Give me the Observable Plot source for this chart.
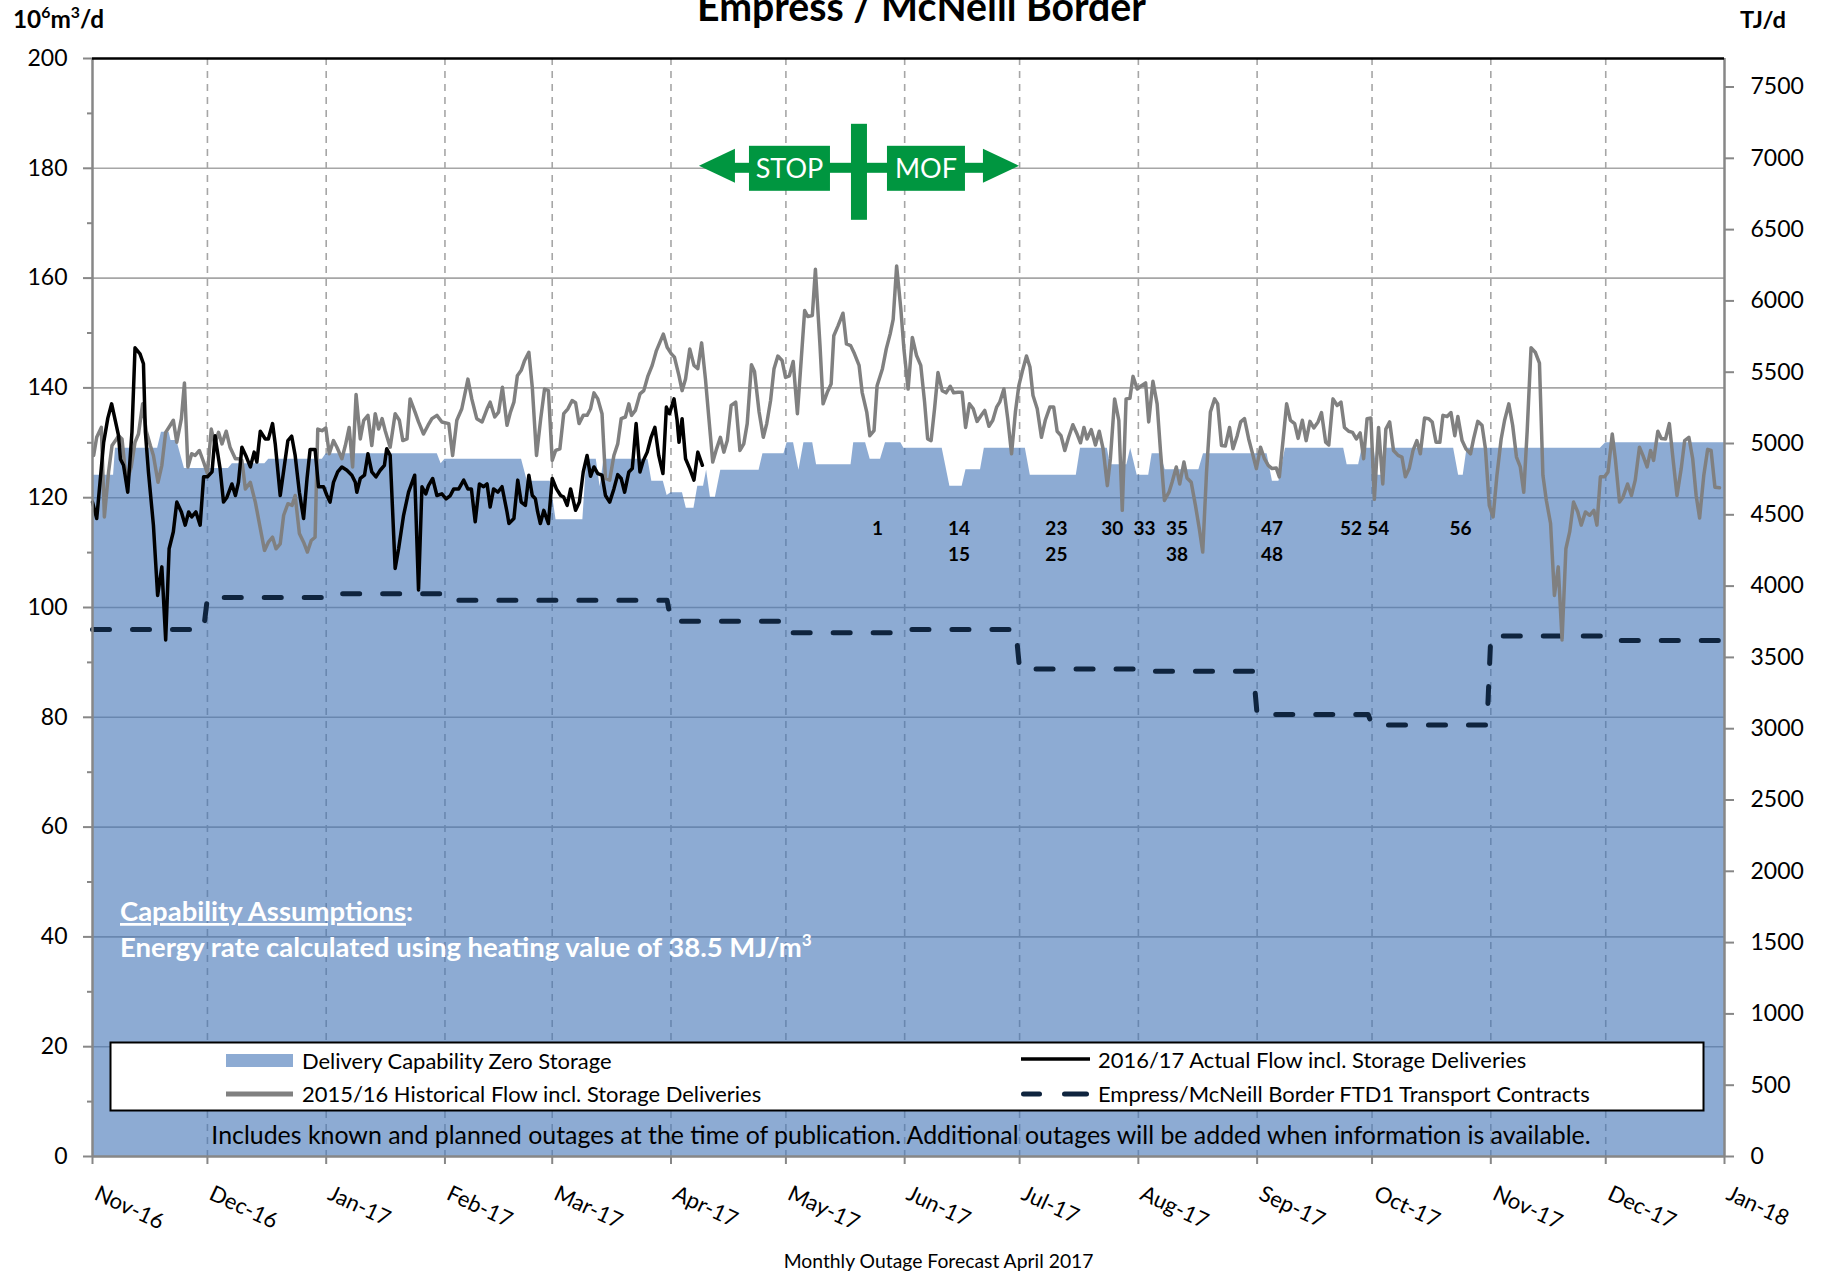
<!DOCTYPE html>
<html><head><meta charset="utf-8">
<script src="https://cdn.jsdelivr.net/npm/d3@7"></script>
<script src="https://cdn.jsdelivr.net/npm/@observablehq/plot@0.6"></script>
<style>
html,body{margin:0;padding:0;background:#fff;}
#chart{width:1826px;height:1273px;overflow:hidden;position:relative;}
svg{overflow:visible;}
</style></head><body><div id="chart"></div>
<script>
// ---------- DATA (day = days after 2016-11-01, value in 10^6 m3/d) ----------
const monthLabels = ["Nov-16","Dec-16","Jan-17","Feb-17","Mar-17","Apr-17","May-17","Jun-17","Jul-17","Aug-17","Sep-17","Oct-17","Nov-17","Dec-17","Jan-18"];
const yTicks = [0,20,40,60,80,100,120,140,160,180,200];
const tjTicks = [0,500,1000,1500,2000,2500,3000,3500,4000,4500,5000,5500,6000,6500,7000,7500];
const heatingValue = 38.5; // MJ/m3 -> TJ/d per 10^6 m3/d

// FTD1 transport contracts, one value per month Nov-16 .. Dec-17
const contractValues = [96.0,101.8,102.5,101.3,101.3,97.5,95.4,96.0,88.8,88.4,80.5,78.6,94.8,94.0];

// Delivery capability zero storage: [startDay, endDay, value]
const capability = [
 [0,5.5,124.1],[6,17,129],[18,20,131.9],[20.5,22,130.4],[24,35.5,125.3],[36.5,45,126.2],
 [46,60,127],[61,90,128],[91,91,126.2],[92,112,127],[113.5,119.5,123],[121,128,116],
 [129,131.5,127],[132.5,132.5,122],[133.5,145,127],[146,149,123],[150,150,120.4],
 [151,154,120.9],[155,157,118.1],[158,159.5,122.1],[160.3,160.3,125],[161.3,162.6,120.1],
 [164,174,125],[175,180.5,128],[181.3,183,130],[184.4,184.4,125],[185.7,188,130],
 [189,198,126],[198.7,201.8,130],[203,205.7,127],[207,211,130],[211.8,221.8,129],
 [223.8,227,122.1],[228,231.8,125.1],[232.8,243.5,129],[244.8,256.8,124.1],
 [257.9,264.9,129],[265.7,270,126],[271,271,129],[272.7,275.7,124.1],[276.6,278.8,128],
 [280,288.8,125.1],[290,306.6,128],[308,309.7,123],[311.4,326.6,129],[327.5,330.5,126],
 [331.4,334.5,129],[335.5,336.5,124.1],[337.3,355.3,129],[356.6,357.8,124.1],
 [358.8,393.6,129],[395,426,130]
];

// 2016/17 actual flow incl. storage deliveries: [day, value]
const actualFlow = [
 [0,119.2],[1.1,116.2],[2.9,130],[4,134.5],[5,137.1],[6.8,131.3],[7.3,127],[8.1,125.9],[9.2,121],[10.3,132],
 [11.1,147.3],[12.4,146.2],[13.3,144.4],[13.8,132],[14.6,124.7],[15.9,115],[17,102.2],[18.1,107.4],[19.1,94.1],
 [20,110.7],[21.1,113.8],[22,119.2],[23.2,117.4],[24.2,115],[25.1,117.4],[25.9,116.5],[27,117.4],[28.1,115],
 [29,123.8],[30,123.8],[31.2,124.7],[32,131.3],[32.5,128.9],[33.3,125.3],[34.2,119.2],[35.1,120.1],[36.4,122.5],
 [37.3,120.4],[38.1,122.8],[39,129.2],[40,127.7],[41.2,125.6],[42.2,128.3],[42.9,126.5],[43.8,132.1],[45.1,130.7],
 [45.9,130.7],[47,133.5],[47.7,129.8],[49,120.4],[50.1,125.9],[51,130.4],[52,131.2],[52.9,127.7],[54,121],
 [55.1,116.2],[56,123.5],[56.8,128.8],[58.1,128.8],[59,122],[60.3,122],[61.2,120.4],[62,119.2],[62.9,122.8],
 [64,124.7],[65.1,125.6],[66.4,125],[67.7,124.1],[68.6,122.8],[69,121],[69.9,123.5],[71,124.1],[71.9,128],
 [72.9,124.7],[74,123.8],[75.1,125],[76.2,125.9],[76.8,128.9],[77.7,127.7],[79,107.1],[79.9,110.7],[81.2,116.8],
 [82.5,121],[84.1,124.1],[85.1,103.2],[86,122],[87,120.7],[87.7,122.2],[88.8,123.5],[89.9,120.4],[91.2,120.7],
 [92.3,119.8],[93.4,120.4],[94.3,121.6],[95.6,121.6],[96.9,123.2],[98,121.6],[98.9,121.6],[99.9,115.6],[101,122.5],
 [102.1,122],[103,122.5],[103.8,118.3],[104.7,121.6],[105.8,121],[106.9,122],[108.2,117.4],[108.7,115.3],[110,116.2],
 [111,123.2],[111.9,119.2],[113,118.6],[113.9,124.1],[114.8,120.4],[115.6,119.8],[116.2,117.4],[116.9,115.3],
 [117.8,117.7],[119,115.3],[120,123.5],[121.1,121.6],[122.2,120.4],[123,120.1],[123.9,118.6],[124.8,121.6],
 [126.1,117.7],[127.1,119.2],[128.1,124.7],[129.1,127.7],[130,123.9],[130.9,125.6],[131.9,124.4],[133,124.1],
 [133.9,120.4],[135,119.2],[136.1,121.6],[137.1,124.2],[138,123.5],[138.9,121],[140,124.7],[140.9,125.3],
 [141.9,133.5],[142.9,124.7],[143.8,126.8],[144.8,128.3],[145.8,131],[146.8,132.8],[147.8,127.7],[148.9,124.4],
 [149.8,136.5],[150.6,135.3],[151.8,138],[152.6,134.1],[153.1,130.1],[153.9,134.4],[154.8,127.1],[155.9,125.3],
 [157,123.2],[158,128.3],[159.2,125.9]
];

// 2015/16 historical flow incl. storage deliveries: [day, value]
const historicalFlow = [
 [0.3,127.7],[1.1,131],[2.3,132.8],[3.1,116.5],[4.2,124.7],[5.1,129.5],[6,130.4],[6.8,131.3],[7.7,130.7],[8.4,125.9],
 [9.2,123.5],[10.1,125.6],[11.1,130.1],[12,131.6],[13.1,137.1],[14,132.2],[15.1,129.5],[15.9,127.7],[17.1,122.8],
 [18.1,125.9],[19.1,131.9],[20.3,133.2],[21.1,134.1],[22,130.1],[23.2,134.4],[24,140.9],[24.9,125.6],[25.9,128],
 [26.8,127.7],[27.9,128.6],[29,126.5],[30,124.4],[31,132.5],[31.9,129.8],[32.9,131.9],[33.8,129.8],[34.9,132.1],
 [35.9,129.2],[37.3,127.1],[38.1,127.1],[39,126.8],[39.9,121.6],[41.2,122.8],[42.5,119.2],[43.8,114.4],[44.9,110.4],
 [45.9,111.9],[47,112.8],[47.9,110.7],[49,111.6],[49.9,116.8],[51,118.9],[52.1,118.6],[52.9,120.4],[54,113.5],
 [55.1,111.9],[56.1,110.1],[57.1,112.2],[58.1,112.8],[58.8,132.5],[59.9,132.2],[60.9,132.7],[61.8,128],[62.9,130.4],
 [63.8,129.2],[65.1,127.1],[66,129.5],[67,132.8],[67.9,125.6],[68.8,138.8],[69.9,130.7],[70.8,134.1],[71.9,135],
 [72.9,129.5],[73.8,135.3],[74.7,132.5],[75.6,134.4],[76.4,132.2],[77.7,129.2],[79,135.3],[80.1,134.1],[81,130.4],
 [82.1,130.7],[82.9,138],[84.2,135.6],[85.1,133.8],[86.4,131.6],[87.6,133.2],[88.6,134.4],[89.9,135],[91.2,133.8],
 [93,133.5],[94,127.7],[95.1,134.1],[96.4,136.2],[98,141.6],[99,138],[100.3,134.4],[101.7,133.8],[103,136.2],
 [103.8,137.4],[105,134.7],[106,135.6],[107,140.1],[108.2,133.2],[109.1,135.6],[110,137.4],[110.9,142.2],
 [111.9,143.2],[112.8,145],[113.9,146.5],[114.8,140.1],[115.9,127.7],[117,134.4],[118,139.8],[119,139.5],[120,126.8],
 [120.9,128.6],[122,128.9],[123,135.3],[124.1,136.2],[125.2,137.7],[126.1,137.3],[127,133.5],[128.1,135],[129.1,135],
 [130,136.2],[130.9,139.1],[131.9,138],[133,135.3],[133.9,123.5],[135,123.2],[136.1,127.7],[137.1,129.8],[138,134.4],
 [139.1,134.7],[140,137.1],[140.7,135],[141.7,135.9],[142.9,138.9],[143.9,139.5],[145,142.2],[146.1,144.1],
 [147.2,146.8],[148.1,148.3],[149,149.8],[150,147.4],[151.1,146.2],[151.9,145.6],[153.1,142.2],[153.9,139.5],
 [154.8,141.6],[155.9,147.1],[157,144.1],[158,143.5],[159,148.2],[160,141.6],[160.9,134.4],[161.9,126.5],
 [162.9,128.9],[163.9,131],[164.8,128.3],[165.7,130.4],[166.7,136.8],[167.9,137.4],[169,128.6],[170,129.8],
 [170.9,133.5],[172,144.2],[172.8,143],[174,135.6],[175.1,131],[176,133.5],[177,137.7],[177.9,143.5],[178.9,145.8],
 [180,145],[180.9,141.9],[181.9,142.2],[182.9,144.8],[184,135.3],[184.8,143.2],[185.9,154.1],[186.7,153],
 [187.9,153.2],[188.7,161.6],[189.9,147.7],[190.7,137.1],[191.8,139.2],[192.8,140.7],[193.5,149.5],[194.6,151.3],
 [195.9,153.6],[196.8,148],[197.9,147.7],[198.9,146.2],[200.1,144.1],[200.9,139.2],[202.1,135.6],[202.9,131.3],
 [204,132.2],[204.8,140.4],[206.2,143.5],[207.2,147.1],[208.2,149.8],[209,152.5],[209.9,162.2],[211,154.4],
 [211.8,147.1],[212.9,139.8],[214,149.2],[215.1,145.9],[216.2,144.1],[217.2,137.4],[218,130.7],[218.9,130.4],
 [219.8,136.2],[220.7,142.8],[221.8,139.5],[222.8,139.1],[223.9,140.3],[224.8,139.1],[225.9,139.2],[227,139.2],
 [227.9,132.8],[228.9,137.1],[229.9,136.2],[230.9,133.9],[232,135],[232.9,135.9],[234,133],[235,134.1],[236,136.5],
 [236.8,137.4],[237.9,139.8],[238.9,134.4],[239.9,128],[240.9,135.6],[241.8,140.4],[242.9,143.5],[243.8,145.8],
 [244.7,143.8],[245.5,138.6],[246.6,136.2],[247.7,131],[248.7,134.1],[249.9,136.5],[250.9,136.5],[251.8,132.1],
 [252.8,131.3],[253.8,128.6],[254.8,131],[255.9,133.3],[257,131.6],[257.9,130],[258.8,132.8],[259.6,130.7],
 [260.7,132.4],[261.8,129.6],[262.8,132.1],[263.8,128.9],[264.9,122.2],[265.7,127.1],[266.8,138],[267.9,134.1],
 [268.8,117.7],[269.8,138],[270.8,138.1],[271.6,142.1],[272.7,139.8],[273.8,140.4],[274.9,140.9],[275.7,133.8],
 [276.8,141.2],[277.9,137.1],[278.8,128.3],[279.8,119.5],[281,121],[281.8,122.8],[282.9,125.6],[283.8,122.5],
 [284.9,126.5],[285.7,123.6],[286.8,122.8],[287.9,118.6],[288.9,114.4],[289.8,110.1],[290.8,124.7],[291.8,135.6],
 [292.9,138],[293.7,137.1],[294.7,129.5],[295.7,129.4],[296.8,132.8],[297.7,128.9],[298.8,131.3],[299.7,133.8],
 [300.7,134.4],[301.8,130.7],[302.7,128.3],[303.8,125.3],[304.9,129.2],[305.9,127.1],[306.9,125.9],[307.9,125.3],
 [309,125.4],[309.8,123.8],[310.8,130.7],[311.7,137.1],[312.7,134.1],[313.8,133.5],[314.7,130.8],[315.8,134.1],
 [316.8,130.4],[317.8,133.9],[318.8,132.7],[319.9,133.8],[320.8,135.5],[321.9,130.1],[322.7,129.6],[323.8,138],
 [324.9,136.8],[325.9,137.4],[326.8,132.8],[327.9,132.1],[328.9,131.9],[329.9,130.7],[330.9,131.8],[331.8,127.1],
 [332.7,134.4],[333.7,134.5],[334.6,119.7],[335.7,132.8],[336.8,122.5],[337.6,132.5],[338.6,133.8],[339.6,128.6],
 [340.8,127.7],[341.8,127.4],[342.7,123.8],[343.7,125.3],[344.7,128.6],[345.7,130.4],[346.6,128],[347.7,134.5],
 [348.8,134.4],[349.7,133.8],[350.7,130.1],[351.7,130.1],[352.5,135],[353.6,134.8],[354.6,135.5],[355.6,131.3],
 [356.4,134.8],[357.5,130.4],[358.5,128.9],[359.7,128],[360.5,130.7],[361.6,133.9],[362.7,133.2],[363.6,128.9],
 [364.6,118.6],[365.6,116.5],[366.6,124.1],[367.7,130.7],[368.6,134.1],[369.7,137.1],[370.7,133.2],[371.7,127.4],
 [372.7,125.6],[373.6,121],[374.5,132.2],[375.5,147.3],[376.6,146.5],[377.7,144.5],[378.6,124.1],[379.5,119.5],
 [380.6,115.3],[381.6,102.2],[382.6,107.4],[383.6,94.1],[384.6,110.7],[385.6,113.8],[386.6,119.2],[387.7,117.4],
 [388.6,115],[389.7,117.4],[390.8,116.8],[391.9,117.7],[392.7,115],[393.6,123.8],[394.7,123.8],[395.6,124.7],
 [396.7,131.6],[397.5,127.1],[398.6,119.2],[399.5,120.1],[400.7,122.5],[401.7,120.4],[402.7,123.2],[403.8,129.2],
 [404.7,127.7],[405.8,125.6],[406.7,128.6],[407.5,126.8],[408.6,132.1],[409.5,130.8],[410.6,130.7],[411.6,133.5],
 [412.6,126.8],[413.6,120.4],[414.7,125.3],[415.6,130.4],[416.7,131],[417.7,127.1],[418.6,120.4],[419.5,116.3],
 [420.6,124.1],[421.6,128.8],[422.5,128.6],[423.5,121.9],[424.7,121.8]
];

// Outage reference numbers: label, day, value
const outageLabels = ["1","14","15","23","25","30","33","35","38","47","48","52","54","56"];
const outageDays   = [204.9,226.2,226.2,251.6,251.6,266.2,274.6,283.1,283.1,307.9,307.9,328.5,335.6,357.1];
const outageValues = [114.4,114.4,109.5,114.4,109.5,114.4,114.4,114.4,109.5,114.4,109.5,114.4,114.4,114.4];

// ---------- BUILD ----------
const START = Date.UTC(2016, 10, 1);
const DAY = 864e5;
const day = d => new Date(START + d * DAY);
const monthDates = monthLabels.map((_, i) => new Date(Date.UTC(2016, 10 + i, 1)));
const x0 = monthDates[0], x1 = monthDates[monthDates.length - 1];

const capPts = capability.flatMap(([a, b, v]) => [{date: day(a), v}, {date: day(b), v}]);
const contractPts = contractValues.flatMap((v, i) => [
  {date: monthDates[i], v},
  {date: i === contractValues.length - 1 ? monthDates[i + 1] : new Date(+monthDates[i + 1] - DAY), v}
]);
const actualPts = actualFlow.map(([d, v]) => ({date: day(d), v}));
const histPts = historicalFlow.map(([d, v]) => ({date: day(d), v}));
const outages = outageLabels.map((t, i) => ({t, date: day(outageDays[i]), v: outageValues[i]}));

const FONT = "Lato, 'Open Sans', 'Liberation Sans', sans-serif";
const AREA = "#4173B6", AREA_OP = 0.6;
const AXIS = "#878787";
const GRID = "#A6A6A6";

const plot = Plot.plot({
  width: 1826, height: 1273,
  marginTop: 58, marginRight: 102, marginBottom: 117, marginLeft: 92,
  style: {fontFamily: FONT, background: "#fff", overflow: "visible", color: "#000"},
  x: {type: "utc", domain: [x0, x1]},
  y: {domain: [0, 200]},
  marks: [
    Plot.ruleY(yTicks.filter(v => v > 0 && v < 200), {stroke: GRID, strokeWidth: 1.6}),
    Plot.ruleX(monthDates.slice(1, -1), {stroke: GRID, strokeWidth: 1.6, strokeDasharray: "7,6"}),
    Plot.areaY(capPts, {x: "date", y1: 0, y2: "v", fill: AREA, fillOpacity: AREA_OP}),
    Plot.line(contractPts, {x: "date", y: "v", stroke: "#0F243E", strokeWidth: 5, strokeDasharray: "17,23", strokeLinecap: "round"}),
    Plot.line(histPts, {x: "date", y: "v", stroke: "#808080", strokeWidth: 3.5, strokeLinejoin: "round"}),
    Plot.line(actualPts, {x: "date", y: "v", stroke: "#000", strokeWidth: 3.5, strokeLinejoin: "round"}),
    Plot.text(outages, {x: "date", y: "v", text: "t", fontSize: 19, fontWeight: "bold", fill: "#000"}),
    // frame lines
    Plot.ruleX([x0], {stroke: AXIS, strokeWidth: 2.5}),
    Plot.ruleX([x1], {stroke: AXIS, strokeWidth: 2.5}),
    Plot.ruleY([0], {stroke: AXIS, strokeWidth: 2.5}),
    Plot.ruleY([200], {stroke: "#000", strokeWidth: 2.5}),
    // left axis
    Plot.axisY(yTicks, {anchor: "left", tickSize: 9, tickPadding: 16, fontSize: 23, stroke: AXIS, strokeWidth: 2, fill: "#000", label: null}),
    Plot.axisY(d3.range(10, 200, 20), {anchor: "left", tickSize: 5, tickFormat: () => "", stroke: AXIS, strokeWidth: 2, label: null}),
    // right axis (TJ/d)
    Plot.axisY(tjTicks.map(t => t / heatingValue), {anchor: "right", tickSize: 9, tickPadding: 17, fontSize: 23, stroke: AXIS, strokeWidth: 2, fill: "#000", label: null, tickFormat: d => String(Math.round(d * heatingValue))}),
    // x axis ticks + rotated labels
    Plot.axisX(monthDates, {anchor: "bottom", tickSize: 8, tickFormat: () => "", stroke: AXIS, strokeWidth: 2, label: null}),
    Plot.text(monthDates, {x: d => d, text: (d, i) => monthLabels[i], frameAnchor: "bottom", dx: 7, dy: 28, rotate: 25, textAnchor: "start", lineAnchor: "top", fontSize: 22, fill: "#000"})
  ]
});
document.getElementById("chart").appendChild(plot);

// ---------- DECORATIONS ----------
const svg = d3.select(plot);
const xs = plot.scale("x"), ys = plot.scale("y");
const g = svg.append("g").attr("font-family", FONT).attr("text-anchor", "start");

// scale a text's font size so its rendered width matches the reference width
function fit(sel, width) {
  const node = sel.node();
  const w = node.getComputedTextLength();
  const fs = parseFloat(sel.attr("font-size"));
  if (w > 0) {
    const k = width / w;
    sel.attr("font-size", fs * k);
    sel.selectAll("tspan").each(function () {
      const t = d3.select(this);
      if (t.attr("font-size")) t.attr("font-size", parseFloat(t.attr("font-size")) * k);
      if (t.attr("dy")) t.attr("dy", parseFloat(t.attr("dy")) * k);
    });
  }
  return sel;
}

// Title (partially cut at the top like the reference)
fit(g.append("text").attr("x", 921.5).attr("y", 21).attr("text-anchor", "middle")
  .attr("font-size", 35).attr("font-weight", "bold").text("Empress / McNeill Border"), 449);

// unit labels
const u1 = g.append("text").attr("x", 13).attr("y", 28).attr("font-size", 20).attr("font-weight", "bold");
u1.append("tspan").text("10");
u1.append("tspan").attr("font-size", 13).attr("dy", -8).text("6");
u1.append("tspan").attr("dy", 8).text("m");
u1.append("tspan").attr("font-size", 13).attr("dy", -8).text("3");
u1.append("tspan").attr("dy", 8).text("/d");
fit(u1, 91);
fit(g.append("text").attr("x", 1740).attr("y", 28).attr("font-size", 20).attr("font-weight", "bold").text("TJ/d"), 46);

// STOP / MOF sign, anchored on the data scales
const cx = xs.apply(day(200.2)), cy = ys.apply(180);
const GREEN = "#009640";
const sign = g.append("g").attr("transform", `translate(${cx},${cy})`).attr("fill", GREEN);
sign.append("rect").attr("x", -126).attr("y", -5).attr("width", 252).attr("height", 10);
sign.append("path").attr("d", "M-160,-2 L-124,-19 L-124,15 Z");
sign.append("path").attr("d", "M160,-2 L124,-19 L124,15 Z");
sign.append("rect").attr("x", -110).attr("y", -22).attr("width", 81).attr("height", 45);
sign.append("rect").attr("x", 28).attr("y", -22).attr("width", 78).attr("height", 45);
sign.append("rect").attr("x", -8).attr("y", -44).attr("width", 16).attr("height", 96);
sign.append("text").attr("x", -69.5).attr("y", 1).attr("dy", "0.35em").attr("text-anchor", "middle")
  .attr("fill", "#fff").attr("font-size", 27).text("STOP");
sign.append("text").attr("x", 67).attr("y", 1).attr("dy", "0.35em").attr("text-anchor", "middle")
  .attr("fill", "#fff").attr("font-size", 27).text("MOF");

// Capability assumptions note
const c1 = g.append("text").attr("x", 120).attr("y", 921).attr("font-size", 24).attr("font-weight", "bold").attr("fill", "#fff");
c1.append("tspan").attr("text-decoration", "underline").text("Capability Assumptions");
c1.append("tspan").text(":");
const c2 = g.append("text").attr("x", 120).attr("y", 957).attr("font-size", 24).attr("font-weight", "bold").attr("fill", "#fff");
c2.append("tspan").text("Energy rate calculated using heating value of 38.5 MJ/m");
c2.append("tspan").attr("font-size", 15).attr("dy", -10).text("3");
fit(c2, 692);
c1.attr("font-size", c2.attr("font-size"));

// Legend
const lg = g.append("g");
lg.append("rect").attr("x", 110.5).attr("y", 1042.5).attr("width", 1593).attr("height", 68)
  .attr("fill", "#fff").attr("stroke", "#000").attr("stroke-width", 2);
lg.append("rect").attr("x", 226).attr("y", 1054).attr("width", 67).attr("height", 13).attr("fill", AREA).attr("fill-opacity", AREA_OP);
lg.append("line").attr("x1", 226).attr("x2", 293).attr("y1", 1094).attr("y2", 1094).attr("stroke", "#808080").attr("stroke-width", 5);
lg.append("line").attr("x1", 1021).attr("x2", 1090).attr("y1", 1059).attr("y2", 1059).attr("stroke", "#000").attr("stroke-width", 3.5);
[[1023.5, 1039.5], [1064.5, 1086.5]].forEach(([a, b]) =>
  lg.append("line").attr("x1", a).attr("x2", b).attr("y1", 1094).attr("y2", 1094)
    .attr("stroke", "#0F243E").attr("stroke-width", 5).attr("stroke-linecap", "round"));
const legendItems = [
  [302, 1061, "Delivery Capability Zero Storage"],
  [302, 1094, "2015/16 Historical Flow incl. Storage Deliveries"],
  [1098, 1060, "2016/17 Actual Flow incl. Storage Deliveries"],
  [1098, 1094, "Empress/McNeill Border FTD1 Transport Contracts"]
];
const legendTexts = legendItems.map(([x, y, t]) => lg.append("text").attr("x", x).attr("y", y).attr("dy", "0.35em")
  .attr("font-size", 19).attr("fill", "#000").text(t));
fit(legendTexts[3], 492);
legendTexts.forEach(t => t.attr("font-size", legendTexts[3].attr("font-size")));

// footer note inside plot
fit(g.append("text").attr("x", 901).attr("y", 1135).attr("dy", "0.35em").attr("text-anchor", "middle")
  .attr("font-size", 22).attr("fill", "#000")
  .text("Includes known and planned outages at the time of publication. Additional outages will be added when information is available."), 1380);

// caption
fit(g.append("text").attr("x", 938.6).attr("y", 1261).attr("dy", "0.35em").attr("text-anchor", "middle")
  .attr("font-size", 17).attr("fill", "#000").text("Monthly Outage Forecast April 2017"), 310);
</script></body></html>
